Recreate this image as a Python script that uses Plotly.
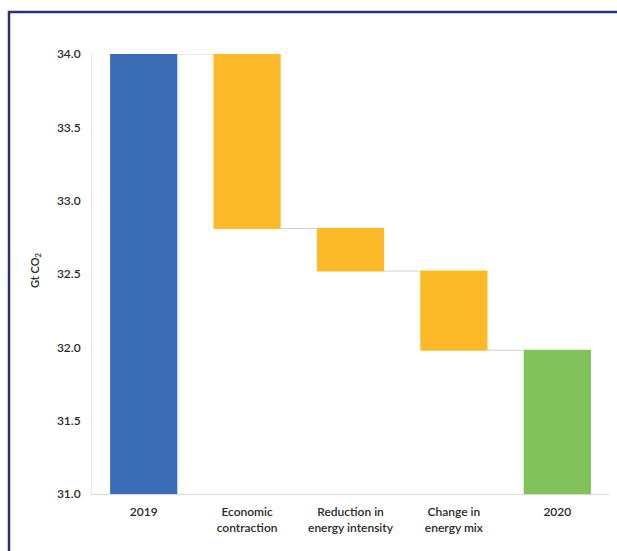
import plotly.graph_objects as go

categories = ["2019", "Economic<br>contraction", "Reduction in<br>energy intensity", "Change in<br>energy mix", "2020"]
values = [34.0, -1.19, -0.29, -0.54, 0]
measures = ["relative", "relative", "relative", "relative", "total"]
y_ticks = [31.0, 31.5, 32.0, 32.5, 33.0, 33.5, 34.0]

L, R, T, B = 92, 8, 54, 57
W = 617 - L - R
H = 551 - T - B

fig = go.Figure(go.Waterfall(
    x=categories,
    y=values,
    measure=measures,
    increasing=dict(marker=dict(color="#3B6DB6")),
    decreasing=dict(marker=dict(color="#FCB928")),
    totals=dict(marker=dict(color="#80C35B")),
    connector=dict(line=dict(color="#D0D0D0", width=1), mode="between"),
    hoverinfo="skip",
    textinfo="none",
))

fig.update_layout(
    width=617, height=551,
    margin=dict(l=L, r=R, t=T, b=B),
    paper_bgcolor="white", plot_bgcolor="white",
    waterfallgap=0.35,
    showlegend=False,
    font=dict(family="Lato, Open Sans, sans-serif", color="#2a2a2a", size=12),
    xaxis=dict(
        showgrid=False, showline=True, linecolor="#D9D9D9", linewidth=1,
        tickfont=dict(size=12, color="#2a2a2a", weight=600), ticklabelstandoff=7,
        fixedrange=True,
    ),
    yaxis=dict(
        range=[31, 34], tickvals=y_ticks, tickformat=".1f",
        showgrid=False, showline=True, linecolor="#E6E6E6", linewidth=1,
        zeroline=False, tickfont=dict(size=12, color="#2a2a2a", weight=600), ticklabelstandoff=8,
        fixedrange=True,
    ),
    annotations=[dict(
        text="Gt CO<sub>2</sub>", textangle=-90, xref="paper", yref="paper",
        x=(35 - L) / W, y=1 - (270 - T) / H, showarrow=False,
        font=dict(size=11, color="#2a2a2a", weight=600), xanchor="center", yanchor="middle",
    )],
    shapes=[dict(
        type="rect", xref="paper", yref="paper",
        x0=(9 - L) / W, x1=(640 - L) / W,
        y0=1 - (580 - T) / H, y1=1 + (T - 12) / H,
        line=dict(color="#2E3072", width=2.5), fillcolor="rgba(0,0,0,0)",
        layer="above",
    )],
)

fig.write_html("out.html")
